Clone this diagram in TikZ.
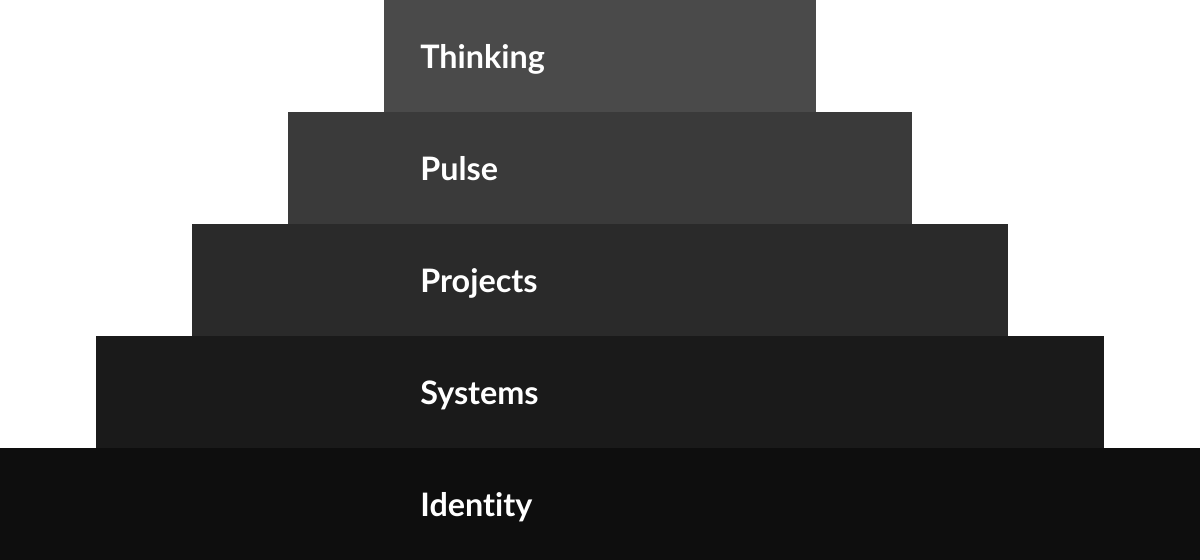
\documentclass[tikz,border=0pt]{standalone}
\usepackage{fontspec}
\setmainfont[Ligatures={NoCommon,NoRare}]{Lato}
\usetikzlibrary{positioning}

\definecolor{tierA}{HTML}{4A4A4A}
\definecolor{tierB}{HTML}{3A3A3A}
\definecolor{tierC}{HTML}{2A2A2A}
\definecolor{tierD}{HTML}{1A1A1A}
\definecolor{tierE}{HTML}{0E0E0E}

\tikzset{
  tier/.style={fill=#1, draw=none, inner sep=0pt, minimum height=2.24cm},
  tierlabel/.style={anchor=base west, inner sep=0pt, text=white,
    font=\fontsize{18.4}{22}\selectfont\bfseries}
}

\begin{document}
\begin{tikzpicture}[x=0.02cm,y=0.02cm]
 \useasboundingbox (0,0) rectangle (1200,560);
 % layers, bottom to top
 \node[tier=tierE, minimum width=24cm]    (identity) at (600,56)  {};
 \node[tier=tierD, minimum width=20.16cm] (systems)  at (600,168) {};
 \node[tier=tierC, minimum width=16.32cm] (projects) at (600,280) {};
 \node[tier=tierB, minimum width=12.48cm] (pulse)    at (600,392) {};
 \node[tier=tierA, minimum width=8.64cm]  (thinking) at (600,504) {};
 % labels
 \node[tierlabel] (lidentity) at (420,43)  {Identity};
 \node[tierlabel] (lsystems)  at (420,155) {Systems};
 \node[tierlabel] (lprojects) at (420,267) {Projects};
 \node[tierlabel] (lpulse)    at (420,379) {Pulse};
 \node[tierlabel] (lthinking) at (420,491) {Thinking};
\end{tikzpicture}
\end{document}
